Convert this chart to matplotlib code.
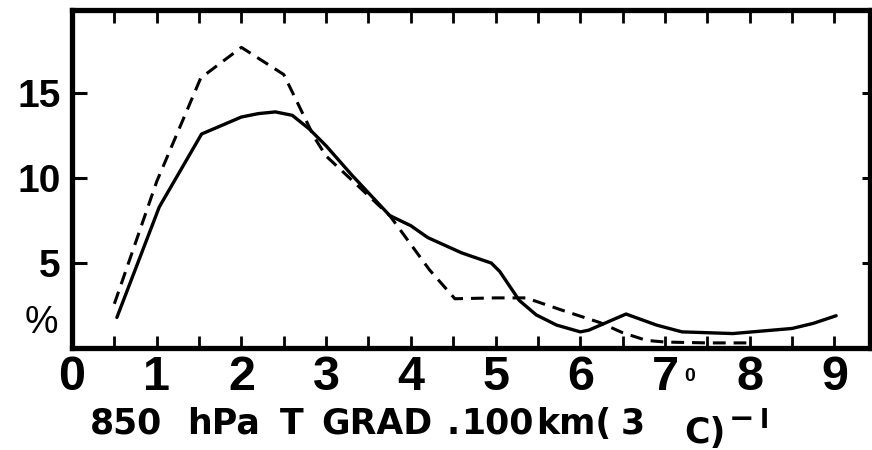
import matplotlib
matplotlib.use("Agg")
import matplotlib.pyplot as plt
from matplotlib.ticker import MultipleLocator, FixedLocator

# ---- data ----
solid_x = [0.53, 1.03, 1.53, 2.0, 2.2, 2.4, 2.6, 2.8, 3.0, 3.3, 3.75, 4.0, 4.2, 4.6,
           4.95, 5.05, 5.28, 5.48, 5.72, 6.0, 6.1, 6.54, 6.9, 7.2, 7.8, 8.5, 8.75, 9.02]
solid_y = [1.8, 8.3, 12.6, 13.6, 13.8, 13.9, 13.7, 12.9, 11.9, 10.2, 7.8, 7.2, 6.5, 5.6,
           5.0, 4.5, 2.8, 1.95, 1.35, 0.95, 1.05, 2.0, 1.35, 0.95, 0.85, 1.15, 1.45, 1.9]

dash_x = [0.5, 1.0, 1.52, 2.0, 2.5, 2.86, 3.0, 3.3, 3.75, 4.22, 4.52, 5.0, 5.36,
          5.8, 6.23, 6.5, 6.78, 7.0, 7.5, 7.96]
dash_y = [2.6, 9.8, 15.9, 17.7, 16.1, 12.4, 11.3, 9.9, 7.8, 4.6, 2.9, 2.95, 2.95,
          2.2, 1.5, 0.9, 0.45, 0.35, 0.3, 0.3]

x_ticks = [0, 1, 2, 3, 4, 5, 6, 7, 8, 9]
y_ticks = [5, 10, 15]

# x-axis label words and their left-edge pixel positions in the reference
label_words = ['850', 'hPa', 'T', 'GRAD', '.', '100', 'km(', '3']
label_left_px = [90, 187, 280, 321, 446, 461, 536, 621]

plt.rcParams['font.family'] = ['Liberation Sans', 'DejaVu Sans']

W, H = 872, 450
fig = plt.figure(figsize=(W / 100, H / 100), dpi=100)
ax = fig.add_axes([72 / W, (H - 348) / H, (870 - 72) / W, (348 - 10) / H])

ax.plot(solid_x, solid_y, color='black', lw=2.4, solid_capstyle='round',
        solid_joinstyle='round')
ln, = ax.plot(dash_x, dash_y, color='black', lw=2.2)
ln.set_dashes([4.2, 2.6])

ax.set_xlim(0, 9.42)
ax.set_ylim(0, 19.9)

for s in ax.spines.values():
    s.set_linewidth(3.8)

ax.xaxis.set_major_locator(FixedLocator(x_ticks))
ax.xaxis.set_minor_locator(MultipleLocator(0.5))
ax.set_xticklabels([str(v) for v in x_ticks])
ax.tick_params(axis='x', which='both', direction='in', length=9, width=2,
               top=True, bottom=True)
ax.tick_params(axis='x', which='major', labelsize=35, pad=5)
for t in ax.get_xticklabels():
    t.set_fontweight('bold')

ax.yaxis.set_major_locator(FixedLocator(y_ticks))
ax.set_yticklabels([str(v) for v in y_ticks])
ax.tick_params(axis='y', which='major', direction='in', length=11, width=2.2,
               labelsize=28, pad=8, left=True, right=False)
for t in ax.get_yticklabels():
    t.set_fontweight('bold')

axr = ax.twinx()
axr.set_ylim(ax.get_ylim())
axr.yaxis.set_major_locator(FixedLocator(y_ticks))
axr.tick_params(axis='y', direction='in', length=6, width=2.2, labelright=False)
for s in axr.spines.values():
    s.set_visible(False)

# "%" unit label left of axis
ax.text(-0.039, 1.45, '%', transform=ax.get_yaxis_transform(), fontsize=27,
        ha='center', va='center')

# x-axis label pieces
fx = lambda px: px / W
fy = lambda py: 1 - py / H
lab_font = dict(family='DejaVu Sans', fontweight='bold', ha='left', va='baseline')
for word, px in zip(label_words, label_left_px):
    fig.text(fx(px), fy(434), word, fontsize=25, **lab_font)
fig.text(fx(684), fy(381), '0', fontsize=14, family='Liberation Sans',
         fontweight='bold', ha='left', va='baseline')
fig.text(fx(684), fy(443), 'C)', fontsize=25, **lab_font)
fig.text(fx(729), fy(428), '\u2212', fontsize=22, **lab_font)
fig.text(fx(760), fy(428), 'l', fontsize=19, **lab_font)

fig.savefig('out.png', dpi=100)
